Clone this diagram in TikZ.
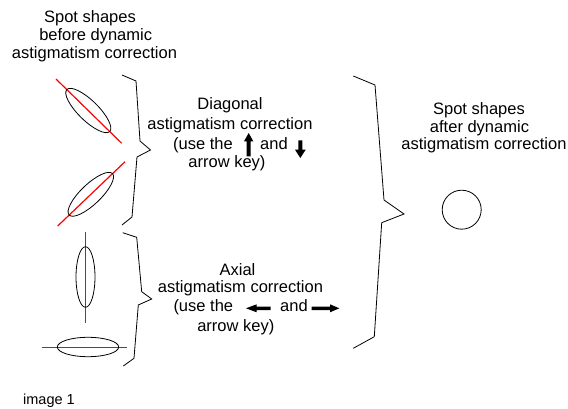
\documentclass[tikz,border=0pt]{standalone}
\usepackage{fontspec}
\setmainfont{Liberation Sans}
\begin{document}
\begin{tikzpicture}[x=1pt,y=-1pt,
  lbl/.style={anchor=base, inner sep=0pt, font=\fontsize{16.5}{18.5}\selectfont},
  spot/.style={draw=black, line width=0.8pt},
  axisline/.style={draw=red, line width=1.2pt},
  bracepath/.style={draw=black, line width=0.8pt, line join=miter},
  keyarrow/.style={fill=black}]
\useasboundingbox (0,0) rectangle (568,409);

% top-left title
\node[lbl] (tl1) at (90,22.5) {Spot shapes};
\node[lbl] (tl2) at (95.7,40.8) {before dynamic};
\node[lbl] (tl3) at (94.5,59) {astigmatism correction};

% right title
\node[lbl] (tr1) at (479,114.3) {Spot shapes};
\node[lbl] (tr2) at (479.5,132.7) {after dynamic};
\node[lbl] (tr3) at (484,149.3) {astigmatism correction};

% diagonal block
\node[lbl] (d1) at (230,109.3) {Diagonal};
\node[lbl] (d2) at (230,129.3) {astigmatism correction};
\node[lbl, anchor=base west] (d3) at (173,149.5) {(use the};
\node[lbl, anchor=base west] (d4) at (260,149.5) {and};
\node[lbl] (d5) at (227,167.5) {arrow key)};

% axial block
\node[lbl] (a1) at (237.5,275) {Axial};
\node[lbl] (a2) at (240.5,292.7) {astigmatism correction};
\node[lbl, anchor=base west] (a3) at (173.3,311.7) {(use the};
\node[lbl, anchor=base west] (a4) at (280,311.7) {and};
\node[lbl] (a5) at (235.8,331) {arrow key)};

% caption
\node[anchor=base west, inner sep=0pt, font=\fontsize{14.5}{16}\selectfont] (cap) at (23,404) {image 1};

% spots before correction
\draw[axisline] (56,79) -- (121.7,143.3);
\draw[spot] (88.3,110.5) ellipse [x radius=30pt, y radius=10pt, rotate=-44.4];
\draw[axisline] (57.7,226) -- (125,161.7);
\draw[spot] (90.8,194.3) ellipse [x radius=30pt, y radius=10pt, rotate=43.7];
\draw[axisline] (85.5,231.7) -- (85.5,323.3);
\draw[spot] (85.5,277) ellipse [x radius=9.5pt, y radius=30.3pt];
\draw[axisline] (42.3,347.5) -- (126.7,347.5);
\draw[spot] (88,347) ellipse [x radius=30.7pt, y radius=9.7pt];

% spot after correction
\draw[spot] (461.7,209.7) circle [radius=19.5pt];

% braces
\draw[bracepath] (122,75) -- (136,81) -- (140,141) -- (150.5,150) -- (137,157) -- (132,217) -- (122,225);
\draw[bracepath] (122.7,232.7) -- (136.7,237.3) -- (141.7,291.7) -- (151.7,299) -- (138.3,305) -- (134,358.3) -- (123.3,366);
\draw[bracepath] (353.3,76) -- (375,85) -- (384,200) -- (404,214) -- (381.7,222.7) -- (374.3,336.7) -- (353.3,348.3);

% key arrows
\fill[keyarrow] (248.7,133) -- (253.3,141.3) -- (250.7,141.3) -- (250.7,156.3) -- (246.7,156.3) -- (246.7,141.3) -- (244,141.3) -- cycle;
\fill[keyarrow] (300.3,158) -- (305.7,149.7) -- (302.3,149.7) -- (302.3,140.3) -- (298.3,140.3) -- (298.3,149.7) -- (295,149.7) -- cycle;
\fill[keyarrow] (246,308.3) -- (256.7,304.3) -- (256.7,306.6) -- (270.7,306.6) -- (270.7,310) -- (256.7,310) -- (256.7,312.3) -- cycle;
\fill[keyarrow] (339.3,308.3) -- (330,304.3) -- (330,306.6) -- (311.7,306.6) -- (311.7,310) -- (330,310) -- (330,312.3) -- cycle;
\end{tikzpicture}
\end{document}
